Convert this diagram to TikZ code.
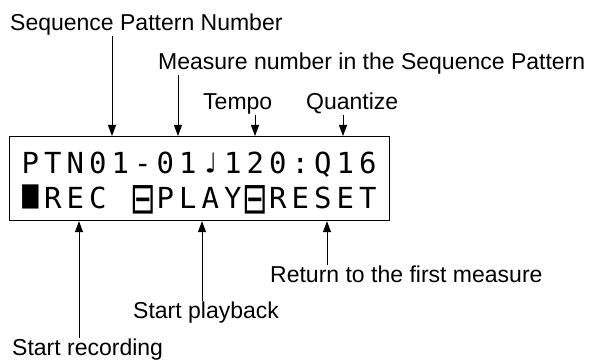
\documentclass[tikz,border=0pt]{standalone}
\usepackage{fontspec}
\setmainfont{Liberation Sans}
\newfontfamily\lcdfont{DejaVu Sans Mono}
\newfontfamily\symfont{DejaVu Sans}
\usetikzlibrary{arrows.meta}
\newcommand\lc[1]{\makebox[22.5pt][c]{#1}}
\newcommand\lcdblock{\raisebox{1pt}{\scalebox{0.95}[1.4]{■}}}
\newcommand\lcdkey{\raisebox{-5.5pt}{\scalebox{1.05}[1.5]{\symfont ⊟}}}
\begin{document}
\begin{tikzpicture}[x=1pt,y=-1pt,
  lbl/.style={font=\fontsize{23}{26}\selectfont, inner sep=0pt, anchor=base west},
  lcdline/.style={font=\lcdfont\fontsize{29}{30}\selectfont, inner sep=0pt, anchor=base west},
  ptr/.style={draw, line width=0.8pt, -{Triangle[length=11pt,width=8pt]}}]
\useasboundingbox (0,0) rectangle (595,361);
% labels
\node[lbl] (spn) at (10,31) {Sequence Pattern Number};
\node[lbl] (mn) at (158,70) {Measure number in the Sequence Pattern};
\node[lbl] (tempo) at (203,110) {Tempo};
\node[lbl] (quant) at (306,110) {Quantize};
\node[lbl] (ret) at (270,282) {Return to the first measure};
\node[lbl] (play) at (133,318) {Start playback};
\node[lbl] (rec) at (12,355) {Start recording};
% LCD
\node[draw, line width=1.2pt, minimum width=380pt, minimum height=84pt, anchor=north west, inner sep=0pt] (lcd) at (9,136) {};
\node[lcdline] (l1) at (19,173) {\lc{P}\lc{T}\lc{N}\lc{0}\lc{1}\lc{-}\lc{0}\lc{1}\lc{♩}\lc{1}\lc{2}\lc{0}\lc{:}\lc{Q}\lc{1}\lc{6}};
\node[lcdline] (l2) at (19,208) {\lc{\lcdblock}\lc{R}\lc{E}\lc{C}\lc{}\lc{\lcdkey}\lc{P}\lc{L}\lc{A}\lc{Y}\lc{\lcdkey}\lc{R}\lc{E}\lc{S}\lc{E}\lc{T}};
% arrows down
\draw[ptr] (spn.south -| 112,0) -- (112,0 |- lcd.north);
\draw[ptr] (mn.south -| 178,0) -- (178,0 |- lcd.north);
\draw[ptr] (tempo.south -| 255,0) -- (255,0 |- lcd.north);
\draw[ptr] (quant.south -| 343,0) -- (343,0 |- lcd.north);
% arrows up
\draw[ptr] (rec.north -| 79,0) -- (79,0 |- lcd.south);
\draw[ptr] (play.north -| 202,0) -- (202,0 |- lcd.south);
\draw[ptr] (ret.north -| 327,0) -- (327,0 |- lcd.south);
\end{tikzpicture}
\end{document}
